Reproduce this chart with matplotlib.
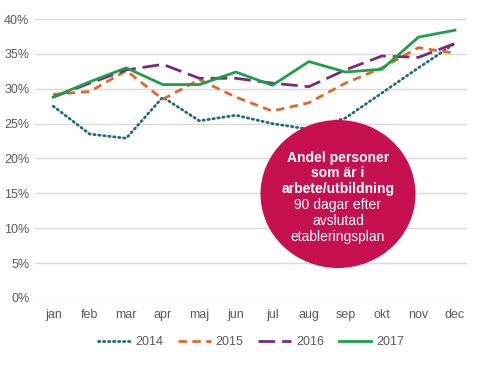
import matplotlib.pyplot as plt
from matplotlib.patches import Ellipse

plt.rcParams['font.family'] = ['Liberation Sans', 'DejaVu Sans']

months = ["jan", "feb", "mar", "apr", "maj", "jun", "jul", "aug", "sep", "okt", "nov", "dec"]
y2014 = [27.5, 23.5, 22.9, 28.8, 25.4, 26.2, 25.0, 24.2, 25.8, 29.4, 33.0, 36.5]
y2015 = [29.2, 29.6, 32.6, 28.5, 31.3, 28.8, 26.8, 28.0, 30.8, 33.0, 35.9, 35.1]
y2016 = [28.8, 30.8, 32.7, 33.5, 31.5, 31.5, 30.8, 30.3, 32.7, 34.7, 34.5, 36.5]
y2017 = [28.8, 31.0, 33.0, 30.6, 30.6, 32.4, 30.5, 33.9, 32.4, 32.8, 37.4, 38.4]
yticks = [0, 5, 10, 15, 20, 25, 30, 35, 40]

label_lines = ["Andel personer", "som är i", "arbete/utbildning",
               "90 dagar efter", "avslutad", "etableringsplan"]

fig = plt.figure(figsize=(4.79, 3.66), dpi=100)
ax = fig.add_axes([0.073, 0.186, 0.902, 0.762])

x = range(len(months))
ax.plot(x, y2014, color='#1f6b78', lw=2, linestyle=(0, (0.5, 1.3)), dash_capstyle='round', label='2014')
ax.plot(x, y2015, color='#e0682a', lw=2, linestyle=(0, (3, 2)), label='2015')
ax.plot(x, y2016, color='#7a2a7e', lw=2, linestyle=(0, (6, 2.5)), label='2016')
ax.plot(x, y2017, color='#1f9e48', lw=2, label='2017')

ax.set_ylim(0, 40)
ax.set_xlim(-0.5, 11.33)
ax.set_yticks(yticks)
ax.set_yticklabels([f"{t}%" for t in yticks])
ax.set_xticks(list(x))
ax.set_xticklabels(months)
ax.tick_params(length=0, labelsize=9, colors='#595959', pad=8)
ax.tick_params(axis='y', pad=4)
ax.grid(axis='y', color='#d9d9d9', lw=1)
ax.set_axisbelow(True)
for s in ax.spines.values():
    s.set_visible(False)

ax.legend(loc='lower center', bbox_to_anchor=(0.5, -0.22), ncol=4, frameon=False,
          fontsize=9, labelcolor='#595959', handlelength=2.6, handletextpad=0.4,
          columnspacing=1.2)

# crimson label bubble
fig.patches.append(Ellipse((338 / 479, 1 - 194 / 366), 155 / 479, 148 / 366,
                           transform=fig.transFigure, facecolor='#c6104f',
                           edgecolor='none', zorder=3))
ys = [158, 173, 189, 205, 221, 237]
for i, (line, yp) in enumerate(zip(label_lines, ys)):
    fig.text(338 / 479, 1 - yp / 366, line, ha='center', va='center', color='white',
             fontsize=10, fontweight='bold' if i < 3 else 'normal', zorder=4)

plt.savefig('out.png', dpi=100)
plt.close()
